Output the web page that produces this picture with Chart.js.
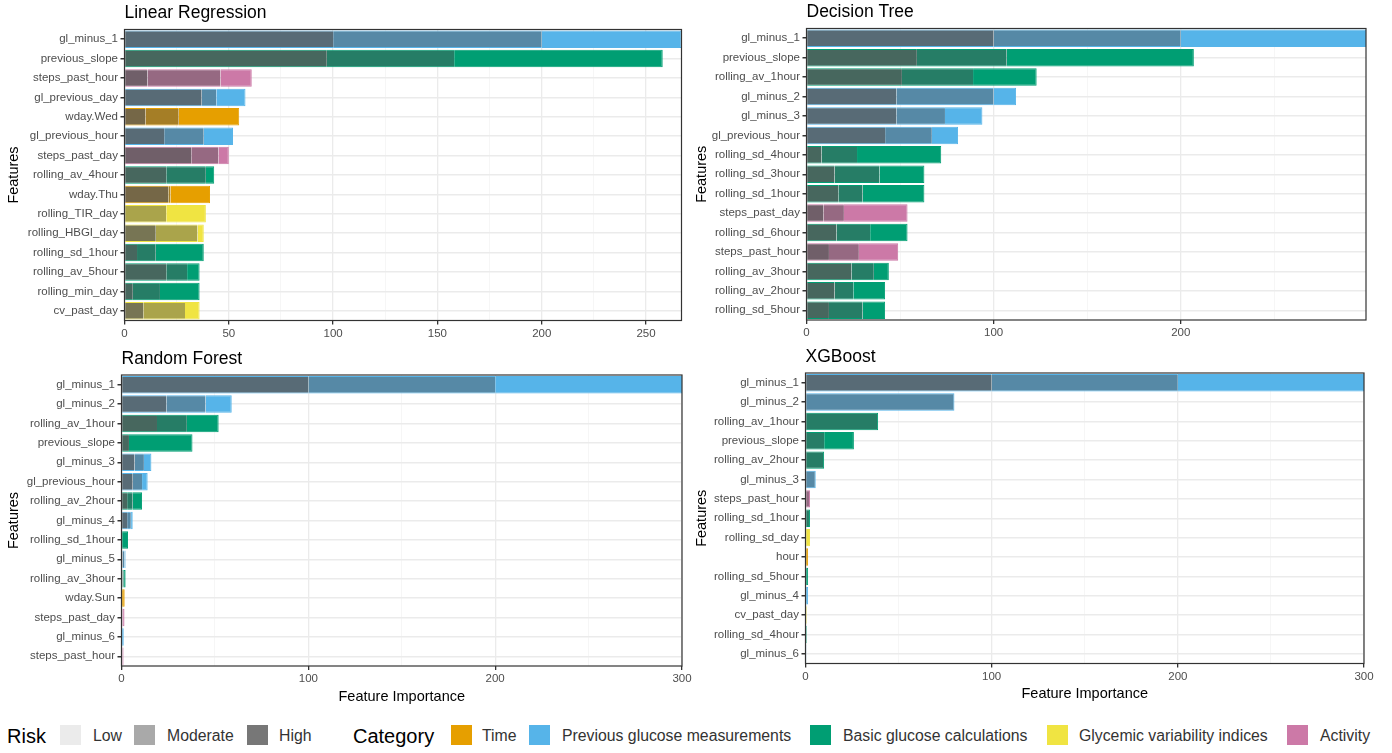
<!DOCTYPE html>
<html>
<head>
<meta charset="utf-8">
<script src="https://cdn.jsdelivr.net/npm/chart.js@4.4.1/dist/chart.umd.min.js"></script>
<style>
  body { margin: 0; background: #fff; width: 1392px; height: 753px; overflow: hidden; position: relative;
         font-family: "Liberation Sans", Arial, sans-serif; }
  .panel { position: absolute; }
  .lg-box { position: absolute; top: 725px; width: 21px; height: 20px; }
  .lg-txt { position: absolute; top: 727px; font-size: 15.8px; line-height: 18px; color: #333; white-space: nowrap; }
  .lg-head { position: absolute; top: 725px; font-size: 20px; line-height: 22px; color: #000; white-space: nowrap; }
</style>
</head>
<body>

<div class="panel" style="left:0px;top:0px"><canvas id="lr" width="696" height="345"></canvas></div>
<div class="panel" style="left:688px;top:0px"><canvas id="dt" width="704" height="345"></canvas></div>
<div class="panel" style="left:0px;top:345px"><canvas id="rf" width="696" height="365"></canvas></div>
<div class="panel" style="left:688px;top:345px"><canvas id="xgb" width="704" height="365"></canvas></div>

<div id="legend">
  <span class="lg-head" style="left:7px">Risk</span>
  <span class="lg-box" style="left:60px;background:#EBEBEB"></span>
  <span class="lg-txt" style="left:93px">Low</span>
  <span class="lg-box" style="left:134px;background:#A9A9A9"></span>
  <span class="lg-txt" style="left:167px">Moderate</span>
  <span class="lg-box" style="left:247px;background:#777777"></span>
  <span class="lg-txt" style="left:279px">High</span>

  <span class="lg-head" style="left:353px">Category</span>
  <span class="lg-box" style="left:451px;background:#E69F00"></span>
  <span class="lg-txt" style="left:482px">Time</span>
  <span class="lg-box" style="left:529px;background:#56B4E9"></span>
  <span class="lg-txt" style="left:562px">Previous glucose measurements</span>
  <span class="lg-box" style="left:810px;background:#009E73"></span>
  <span class="lg-txt" style="left:843px">Basic glucose calculations</span>
  <span class="lg-box" style="left:1047px;background:#F0E442"></span>
  <span class="lg-txt" style="left:1079px">Glycemic variability indices</span>
  <span class="lg-box" style="left:1287px;background:#CC79A7"></span>
  <span class="lg-txt" style="left:1320px">Activity</span>
</div>

<script>
// ---- data (feature importance split by risk level) ----
const lrFeatures = ['gl_minus_1', 'previous_slope', 'steps_past_hour', 'gl_previous_day', 'wday.Wed',
  'gl_previous_hour', 'steps_past_day', 'rolling_av_4hour', 'wday.Thu', 'rolling_TIR_day',
  'rolling_HBGI_day', 'rolling_sd_1hour', 'rolling_av_5hour', 'rolling_min_day', 'cv_past_day'];
const lrHigh     = [100, 97, 11, 37, 10, 19, 32, 20, 21, 0, 15, 6, 20, 4, 9];
const lrModerate = [100, 61, 35, 7, 16, 19, 13, 19, 1, 20, 20, 9, 10, 13, 20];
const lrLow      = [67, 100, 15, 14, 29, 14, 5, 4, 19, 19, 3, 23, 6, 19, 7];

const dtFeatures = ['gl_minus_1', 'previous_slope', 'rolling_av_1hour', 'gl_minus_2', 'gl_minus_3',
  'gl_previous_hour', 'rolling_sd_4hour', 'rolling_sd_3hour', 'rolling_sd_1hour', 'steps_past_day',
  'rolling_sd_6hour', 'steps_past_hour', 'rolling_av_3hour', 'rolling_av_2hour', 'rolling_sd_5hour'];
const dtHigh     = [100, 59, 51, 48, 48, 42, 8, 15, 17, 9, 16, 12, 24, 15, 12];
const dtModerate = [100, 48, 38, 52, 26, 25, 19, 24, 13, 11, 18, 16, 12, 10, 18];
const dtLow      = [99, 100, 34, 12, 20, 14, 45, 24, 33, 34, 20, 21, 8, 17, 12];

const rfFeatures = ['gl_minus_1', 'gl_minus_2', 'rolling_av_1hour', 'previous_slope', 'gl_minus_3',
  'gl_previous_hour', 'rolling_av_2hour', 'gl_minus_4', 'rolling_sd_1hour', 'gl_minus_5',
  'rolling_av_3hour', 'wday.Sun', 'steps_past_day', 'gl_minus_6', 'steps_past_hour'];
const rfHigh     = [100, 24, 19, 4, 7, 6, 3, 3, 0, 0.6, 0.6, 0, 0, 0, 0];
const rfModerate = [100, 21, 16, 0, 5, 5, 3, 2, 0, 1, 0.6, 0, 0.5, 0, 0.5];
const rfLow      = [100, 14, 17, 34, 4, 3, 5, 1, 3.5, 0.6, 1, 1.7, 1.1, 1.2, 0.6];

const xgbFeatures = ['gl_minus_1', 'gl_minus_2', 'rolling_av_1hour', 'previous_slope', 'rolling_av_2hour',
  'gl_minus_3', 'steps_past_hour', 'rolling_sd_1hour', 'rolling_sd_day', 'hour',
  'rolling_sd_5hour', 'gl_minus_4', 'cv_past_day', 'rolling_sd_4hour', 'gl_minus_6'];
const xgbHigh     = [100, 0, 0, 0, 0, 0, 0, 0, 0, 0, 0, 0, 0, 0, 0];
const xgbModerate = [100, 80, 39, 10, 10, 5.5, 2.4, 2.4, 0, 0, 0, 0, 0, 0, 0];
const xgbLow      = [100, 0, 0, 16, 0, 0, 0, 0, 2.4, 1.4, 1.4, 1.4, 0.7, 0.7, 0.5];

// x grid positions; only those in the label list get a tick label
const lrGrid = [0, 25, 50, 75, 100, 125, 150, 175, 200, 225, 250];
const lrTickLabels = [0, 50, 100, 150, 200, 250];
const wideGrid = [0, 50, 100, 150, 200, 250, 300];
const wideTickLabels = [0, 100, 200, 300];

const categoryColors = {
  time: '#E69F00',
  previous: '#56B4E9',
  basic: '#009E73',
  variability: '#F0E442',
  activity: '#CC79A7'
};
const variabilityFeatures = ['rolling_TIR_day', 'rolling_HBGI_day', 'cv_past_day', 'rolling_sd_day'];

function featureCategory(name) {
  if (name.startsWith('gl_')) return 'previous';
  if (name.startsWith('steps')) return 'activity';
  if (name.startsWith('wday') || name === 'hour') return 'time';
  if (variabilityFeatures.includes(name)) return 'variability';
  return 'basic';
}

// blend a category colour with a grey shade (ggplot alpha overlay look)
function mix(hex, grey, amount) {
  const c = parseInt(hex.slice(1), 16);
  const f = v => Math.round(v * (1 - amount) + grey * amount);
  return `rgb(${f((c >> 16) & 255)},${f((c >> 8) & 255)},${f(c & 255)})`;
}

const FONT = '"Liberation Sans", Arial, sans-serif';

const frameAndTitle = {
  id: 'frameAndTitle',
  afterDraw(chart) {
    const { ctx, chartArea: a } = chart;
    ctx.save();
    ctx.strokeStyle = '#333333';
    ctx.lineWidth = 1.2;
    ctx.strokeRect(a.left, a.top, a.right - a.left, a.bottom - a.top);
    ctx.fillStyle = '#000';
    ctx.font = '17.5px ' + FONT;
    ctx.textBaseline = 'middle';
    ctx.textAlign = 'left';
    ctx.fillText(chart.options.panelTitle, a.left, a.top - 16);
    ctx.restore();
  }
};

function drawPanel(p) {
  const colors = p.labels.map(f => categoryColors[featureCategory(f)]);
  const series = [p.high, p.moderate, p.low];
  const isMajor = c => c.tick && p.tickLabels.includes(c.tick.value);

  const edge = (ctx) => {
    const i = ctx.dataIndex, d = ctx.datasetIndex;
    let last = true;
    for (let k = d + 1; k < series.length; k++) if (series[k][i] > 0) last = false;
    return { top: 1, bottom: 1, left: 0, right: last ? 1 : 0 };
  };

  const ds = (label, data, fill) => ({
    label, data,
    backgroundColor: fill,
    borderColor: colors,
    borderWidth: edge,
    borderSkipped: false
  });

  new Chart(document.getElementById(p.id), {
    type: 'bar',
    data: {
      labels: p.labels,
      datasets: [
        ds('High', p.high, colors.map(c => mix(c, 89, 0.8))),
        ds('Moderate', p.moderate, colors.map(c => mix(c, 85, 0.45))),
        ds('Low', p.low, colors)
      ]
    },
    options: {
      panelTitle: p.title,
      indexAxis: 'y',
      responsive: false,
      animation: false,
      layout: { padding: { top: p.plot[1], right: p.size[0] - p.plot[2], left: 0, bottom: 0 } },
      datasets: { bar: { barPercentage: 0.9, categoryPercentage: 1 } },
      plugins: { legend: { display: false }, tooltip: { enabled: false } },
      scales: {
        x: {
          stacked: true,
          min: 0,
          max: p.max,
          border: { display: false },
          afterBuildTicks: s => { s.ticks = p.grid.filter(v => v <= p.max).map(v => ({ value: v })); },
          ticks: {
            autoSkip: false,
            maxRotation: 0,
            padding: 2,
            color: '#4D4D4D',
            font: { family: FONT, size: 11.5 },
            callback: v => (p.tickLabels.includes(v) ? v : '')
          },
          grid: {
            color: c => (isMajor(c) ? '#EBEBEB' : '#F4F4F4'),
            lineWidth: c => (isMajor(c) ? 1.3 : 0.8),
            tickColor: c => (isMajor(c) ? '#333333' : 'rgba(0,0,0,0)'),
            tickLength: 4
          },
          title: {
            display: p.xTitle,
            text: 'Feature Importance',
            color: '#000',
            font: { family: FONT, size: 14.5 },
            padding: { top: 0, bottom: p.xTitlePad }
          },
          afterFit: s => { s.height = p.size[1] - p.plot[3]; }
        },
        y: {
          stacked: true,
          border: { display: false },
          ticks: {
            autoSkip: false,
            padding: 2.5,
            color: '#4D4D4D',
            font: { family: FONT, size: 11.5 }
          },
          grid: {
            offset: false,
            color: '#EBEBEB',
            lineWidth: 1.5,
            tickColor: '#333333',
            tickLength: 4
          },
          title: {
            display: true,
            text: 'Features',
            color: '#000',
            font: { family: FONT, size: 14.5 },
            padding: { top: 5, bottom: 0 }
          },
          afterFit: s => { s.width = p.plot[0]; }
        }
      }
    },
    plugins: [frameAndTitle]
  });
}

drawPanel({ id: 'lr', title: 'Linear Regression', labels: lrFeatures, high: lrHigh, moderate: lrModerate, low: lrLow,
  max: 267, grid: lrGrid, tickLabels: lrTickLabels, xTitle: false, xTitlePad: 4,
  size: [696, 345], plot: [124.5, 29.5, 681.5, 320.5] });

drawPanel({ id: 'dt', title: 'Decision Tree', labels: dtFeatures, high: dtHigh, moderate: dtModerate, low: dtLow,
  max: 299, grid: wideGrid, tickLabels: wideTickLabels, xTitle: false, xTitlePad: 4,
  size: [704, 345], plot: [118.5, 28.5, 678, 320] });

drawPanel({ id: 'rf', title: 'Random Forest', labels: rfFeatures, high: rfHigh, moderate: rfModerate, low: rfLow,
  max: 300, grid: wideGrid, tickLabels: wideTickLabels, xTitle: true, xTitlePad: 4,
  size: [696, 365], plot: [121.5, 30, 682, 321] });

drawPanel({ id: 'xgb', title: 'XGBoost', labels: xgbFeatures, high: xgbHigh, moderate: xgbModerate, low: xgbLow,
  max: 300, grid: wideGrid, tickLabels: wideTickLabels, xTitle: true, xTitlePad: 7,
  size: [704, 365], plot: [117.5, 28, 676, 318.5] });
</script>
</body>
</html>
